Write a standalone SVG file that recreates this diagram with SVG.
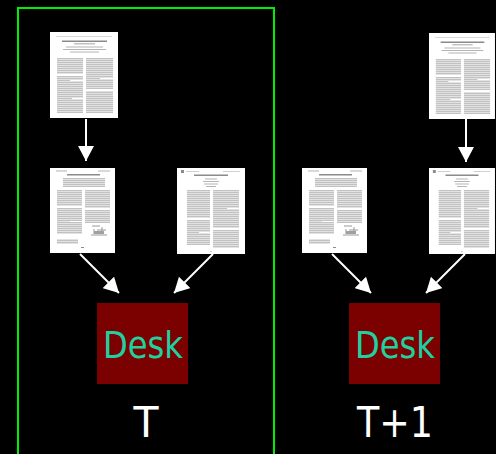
<svg xmlns="http://www.w3.org/2000/svg" xmlns:xlink="http://www.w3.org/1999/xlink" width="496" height="454" viewBox="0 0 496 454">
  <style>
    .frame { fill: none; stroke: #00ee00; stroke-width: 2; }
    .conn { stroke: #ffffff; stroke-width: 2; fill: none; marker-end: url(#head); }
    .desk { fill: #7b0000; }
    .desktxt { font-family: "DejaVu Sans", Verdana, sans-serif; font-size: 38px; fill: #1fd0a0; text-anchor: middle; }
    .time { font-family: "DejaVu Sans", Verdana, sans-serif; font-size: 42px; fill: #ffffff; text-anchor: middle; }
    .page { fill: #ffffff; }
    .col { fill: url(#txt); }
    .dark { fill: #8a8a8a; }
    .mid { fill: #b4b4b4; }
    .lite { fill: #d0d0d0; }
    .gap { fill: #ffffff; }
  </style>
  <defs>
    <marker id="head" markerUnits="userSpaceOnUse" viewBox="0 0 15 16" refX="15" refY="8" markerWidth="15" markerHeight="16" orient="auto">
      <path d="M0,0 L15,8 L0,16 z" fill="#ffffff"/>
    </marker>
    <pattern id="txt" patternUnits="userSpaceOnUse" width="4" height="2">
      <rect x="0" y="0" width="4" height="1" fill="#c2c2c2"/>
      <rect x="0" y="1" width="4" height="1" fill="#e2e2e2"/>
    </pattern>
    <g id="docA">
      <rect class="page" x="0" y="0" width="68" height="86"/>
      <rect class="lite" x="6" y="4" width="56" height="0.8"/>
      <rect class="dark" x="12" y="8.5" width="45" height="1.5"/>
      <rect class="mid" x="24" y="11.2" width="21" height="1.2"/>
      <rect class="mid" x="16" y="14.5" width="37" height="1"/>
      <rect class="mid" x="13" y="17" width="43" height="1"/>
      <rect class="mid" x="20" y="19.5" width="29" height="1"/>
      <rect class="col" x="7" y="26" width="26" height="55"/>
      <rect class="col" x="36" y="26" width="27" height="55"/>
      <rect class="gap" x="7" y="42" width="26" height="2"/>
      <rect class="gap" x="20" y="48" width="13" height="1"/>
      <rect class="gap" x="36" y="57" width="27" height="2"/>
      <rect class="gap" x="50" y="46" width="13" height="1"/>
      <rect class="gap" x="22" y="66" width="11" height="1"/>
    </g>
    <g id="docB">
      <rect class="page" x="0" y="0" width="65" height="85"/>
      <rect class="mid" x="6" y="2.5" width="11" height="1"/>
      <rect class="mid" x="48" y="2.5" width="12" height="1"/>
      <rect class="dark" x="17" y="6" width="33" height="1.5"/>
      <rect class="col" x="13" y="10" width="42" height="9"/>
      <rect class="col" x="7" y="22" width="25" height="44"/>
      <rect class="col" x="35" y="22" width="25" height="33"/>
      <rect class="gap" x="7" y="38" width="25" height="2"/>
      <rect class="gap" x="35" y="40" width="25" height="2"/>
      <rect class="gap" x="20" y="53" width="12" height="1"/>
      <path d="M42,58 h8 M44,61 v5 M47,62 h9 M41,67 h16 M52,59 v6" stroke="#999" stroke-width="1" fill="none"/>
      <rect x="44" y="63" width="10" height="3" fill="#a0a0a0"/>
      <rect class="col" x="7" y="71" width="21" height="5"/>
      <rect class="dark" x="31" y="79" width="3" height="1"/>
    </g>
    <g id="docC">
      <rect class="page" x="0" y="0" width="68" height="86"/>
      <rect class="dark" x="4" y="2" width="3" height="3"/>
      <rect class="lite" x="9" y="3" width="13" height="1"/>
      <rect class="lite" x="46" y="3" width="17" height="1"/>
      <rect class="dark" x="17" y="6.5" width="34" height="1.5"/>
      <rect class="mid" x="28" y="10.5" width="12" height="1"/>
      <rect class="mid" x="26" y="13" width="16" height="1"/>
      <rect class="mid" x="27" y="15.5" width="14" height="1"/>
      <rect class="mid" x="29" y="18" width="10" height="1"/>
      <rect class="col" x="10" y="22" width="23" height="55"/>
      <rect class="col" x="36" y="22" width="26" height="58"/>
      <rect class="gap" x="10" y="50" width="23" height="2"/>
      <rect class="gap" x="36" y="60" width="26" height="2"/>
      <rect class="gap" x="22" y="64" width="11" height="1"/>
      <rect class="gap" x="50" y="40" width="12" height="1"/>
      <rect class="lite" x="33" y="83" width="2" height="1"/>
    </g>
  </defs>

  <rect x="0" y="0" width="496" height="454" fill="#000000"/>

  <g id="frame-T">
    <path class="frame" d="M18,460 V8 H274 V460"/>
  </g>

  <g id="connectors">
    <line class="conn" x1="86" y1="119" x2="86" y2="161"/>
    <line class="conn" x1="80" y1="254" x2="119" y2="293"/>
    <line class="conn" x1="213" y1="254" x2="174" y2="293"/>
    <line class="conn" x1="466" y1="119" x2="466" y2="162"/>
    <line class="conn" x1="332" y1="254" x2="371" y2="293"/>
    <line class="conn" x1="465" y1="254" x2="426" y2="293"/>
  </g>

  <g id="doc-T-top">
    <use xlink:href="#docA" href="#docA" transform="translate(50,32)"/>
  </g>
  <g id="doc-T-left">
    <use xlink:href="#docB" href="#docB" transform="translate(50,168)"/>
  </g>
  <g id="doc-T-right">
    <use xlink:href="#docC" href="#docC" transform="translate(177,168)"/>
  </g>
  <g id="desk-T">
    <rect class="desk" x="97" y="303" width="91" height="81"/>
    <text class="desktxt" x="143" y="358" textLength="80" lengthAdjust="spacingAndGlyphs">Desk</text>
  </g>
  <g id="label-T">
    <text class="time" x="146" y="437" textLength="25" lengthAdjust="spacingAndGlyphs">T</text>
  </g>

  <g id="doc-T1-top">
    <use xlink:href="#docA" href="#docA" transform="translate(429,33) scale(0.97,1.0)"/>
  </g>
  <g id="doc-T1-left">
    <use xlink:href="#docB" href="#docB" transform="translate(302,168)"/>
  </g>
  <g id="doc-T1-right">
    <use xlink:href="#docC" href="#docC" transform="translate(429,168) scale(0.97,1.0)"/>
  </g>
  <g id="desk-T1">
    <rect class="desk" x="349" y="303" width="91" height="81"/>
    <text class="desktxt" x="395" y="358" textLength="80" lengthAdjust="spacingAndGlyphs">Desk</text>
  </g>
  <g id="label-T1">
    <text class="time" x="395" y="437" textLength="76" lengthAdjust="spacingAndGlyphs">T+1</text>
  </g>
</svg>
